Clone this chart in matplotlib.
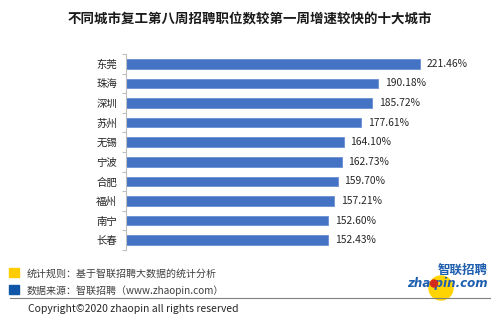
import matplotlib
matplotlib.use('Agg')
import matplotlib.pyplot as plt
from matplotlib.patches import Rectangle, Ellipse
from matplotlib.lines import Line2D

plt.rcParams['font.family'] = ['Noto Sans CJK SC', 'DejaVu Sans']

# top ten cities, growth of week-8 postings over week 1 (%)
cities = ['东莞', '珠海', '深圳', '苏州', '无锡', '宁波', '合肥', '福州', '南宁', '长春']
growth = [221.46, 190.18, 185.72, 177.61, 164.10, 162.73, 159.70, 157.21, 152.60, 152.43]

title = '不同城市复工第八周招聘职位数较第一周增速较快的十大城市'
note_rule = '统计规则：基于智联招聘大数据的统计分析'
note_src = '数据来源：智联招聘（www.zhaopin.com）'
copyright_txt = 'Copyright©2020 zhaopin all rights reserved'

W, H = 500, 323
fig = plt.figure(figsize=(W / 100, H / 100), dpi=100)

def fx(px):
    return px / W

def fy(py):
    return 1 - py / H

ax = fig.add_axes([fx(126), fy(250), fx(354), fy(54) - fy(250)])
pos = list(range(len(cities)))
bars = ax.barh(pos, growth, height=0.48, color='#4472C4',
               edgecolor='#6A8FD4', linewidth=0.6)
ax.set_xlim(0, 267)
ax.set_ylim(len(cities) - 0.5, -0.5)

for b, v in zip(bars, growth):
    ax.annotate(f'{v:.2f}%', (b.get_width(), b.get_y() + b.get_height() / 2),
                xytext=(4.7, 0), textcoords='offset points',
                va='center', ha='left', fontsize=7.4, color='#262626')

ax.set_yticks(pos)
ax.set_yticklabels(cities, fontsize=7.5, color='#262626')
ax.tick_params(axis='y', which='major', length=0, pad=6.5)
ax.set_yticks([p - 0.5 for p in pos] + [len(cities) - 0.5], minor=True)
ax.tick_params(axis='y', which='minor', length=3, width=0.8, color='#BFBFBF')
ax.set_xticks([])
for s in ['top', 'right', 'bottom']:
    ax.spines[s].set_visible(False)
ax.spines['left'].set_color('#BFBFBF')
ax.spines['left'].set_linewidth(0.8)

fig.text(0.5, fy(20), title, ha='center', va='center',
         fontsize=9.7, fontweight='bold', color='#1a1a1a')

# footer notes
fig.patches.append(Rectangle((fx(9), fy(277)), fx(10), fy(268) - fy(277),
                             transform=fig.transFigure, color='#FFCC00'))
fig.patches.append(Rectangle((fx(9), fy(294)), fx(10), fy(285) - fy(294),
                             transform=fig.transFigure, color='#0F56A8'))
fig.text(fx(27), fy(274), note_rule, ha='left', va='center',
         fontsize=7.2, color='#404040')
fig.text(fx(27), fy(291), note_src, ha='left', va='center',
         fontsize=7.2, color='#404040')
fig.lines.append(Line2D([fx(10), fx(490)], [fy(298), fy(298)],
                        transform=fig.transFigure, color='#808080', linewidth=0.8))
fig.text(fx(28), fy(309), copyright_txt, ha='left', va='center',
         fontsize=7.5, color='#262626')

# logo: yellow disc behind the text, red ball inside the "o"
fig.patches.append(Ellipse((fx(441), fy(288)), fx(24), 24 / H,
                           transform=fig.transFigure, color='#FFD400', zorder=1))
fig.patches.append(Ellipse((fx(434), fy(283.5)), fx(7), 7 / H,
                           transform=fig.transFigure, color='#D42A1E', zorder=4))
fig.text(fx(488), fy(270), '智联招聘', ha='right', va='center',
         fontsize=9, fontweight='bold', color='#1F5FAF', zorder=3)
fig.text(fx(488), fy(283), 'zha pin.com', ha='right', va='center',
         fontsize=8.6, fontweight='bold', fontstyle='oblique',
         family='DejaVu Sans', color='#1F5FAF', zorder=3)

fig.savefig('out.png', dpi=100)
